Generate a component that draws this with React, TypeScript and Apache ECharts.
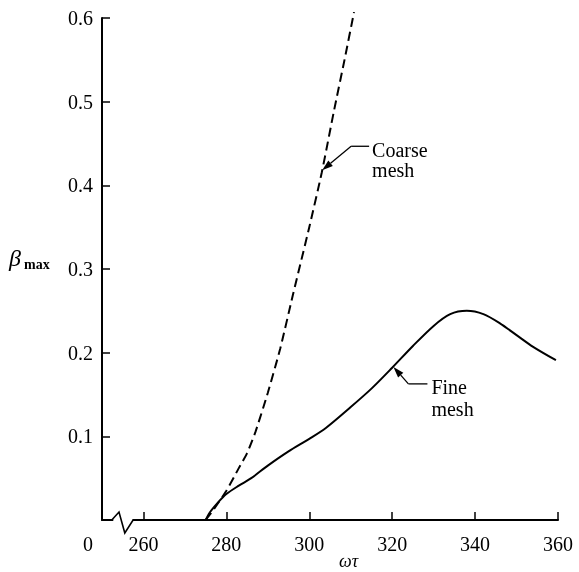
import React, { useEffect, useRef } from "react";
import * as echarts from "echarts";

const xTicks = [260, 280, 300, 320, 340, 360];
const yTicks = [0, 0.1, 0.2, 0.3, 0.4, 0.5, 0.6];

const coarseMesh: [number, number][] = [
  [275, 0], [277, 0.013], [280, 0.035], [283, 0.062], [285, 0.08], [287, 0.105],
  [290, 0.152], [293, 0.205], [296, 0.268], [300, 0.35], [303, 0.415],
  [306, 0.49], [308.5, 0.55], [310.8, 0.607],
];

const fineMesh: [number, number][] = [
  [275, 0], [276, 0.009], [278, 0.021], [280, 0.031], [283, 0.041], [286, 0.05],
  [290, 0.065], [295, 0.082], [300, 0.097], [304, 0.11], [310, 0.135],
  [315, 0.157], [320, 0.182], [325, 0.208], [330, 0.232], [334, 0.246],
  [338, 0.25], [342, 0.246], [346, 0.235], [350, 0.221], [354, 0.207], [359.5, 0.191],
];

const FONT = '"Liberation Serif", "DejaVu Serif", serif';

export default function App() {
  const ref = useRef<HTMLDivElement>(null);
  useEffect(() => {
    const chart = echarts.init(ref.current!, null, { renderer: "svg" });
    chart.setOption({
      animation: false,
      grid: { left: 102, top: 18, width: 456, height: 502 },
      xAxis: {
        type: "value",
        min: 250,
        max: 360,
        axisLine: { show: true, lineStyle: { color: "#000", width: 2 } },
        axisTick: { show: true, inside: true, length: 8, customValues: xTicks, lineStyle: { color: "#000", width: 1.5 } },
        axisLabel: { customValues: xTicks, color: "#000", fontFamily: FONT, fontSize: 20, margin: 14 },
        splitLine: { show: false },
      },
      yAxis: {
        type: "value",
        min: yTicks[0],
        max: yTicks[yTicks.length - 1],
        interval: 0.1,
        axisLine: { show: true, lineStyle: { color: "#000", width: 2 } },
        axisTick: { show: true, inside: true, length: 8, lineStyle: { color: "#000", width: 1.5 } },
        axisLabel: {
          color: "#000", fontFamily: FONT, fontSize: 20, margin: 9,
          formatter: (v: number) => (v === 0 ? "" : v.toFixed(1)),
        },
        splitLine: { show: false },
      },
      series: [
        {
          name: "Coarse mesh", type: "line", data: coarseMesh, showSymbol: false, clip: false,
          smooth: 0.2, lineStyle: { color: "#000", width: 2, type: [9, 5] },
        },
        {
          name: "Fine mesh", type: "line", data: fineMesh, showSymbol: false,
          smooth: 0.3, lineStyle: { color: "#000", width: 2 },
        },
      ],
    });

    const px = (x: number, y: number) => chart.convertToPixel({ gridIndex: 0 }, [x, y]) as number[];
    const arrow = (tip: number[], from: number[]) => {
      const dx = tip[0] - from[0], dy = tip[1] - from[1];
      const L = Math.hypot(dx, dy);
      const ux = dx / L, uy = dy / L;
      const len = 11, w = 3.5;
      const bx = tip[0] - ux * len, by = tip[1] - uy * len;
      return [
        { type: "polyline", shape: { points: [[from[0], from[1]], [bx, by]] }, style: { stroke: "#000", lineWidth: 1.3, fill: null } },
        { type: "polygon", shape: { points: [tip, [bx - uy * w, by + ux * w], [bx + uy * w, by - ux * w]] }, style: { fill: "#000" } },
      ];
    };

    const y0 = px(250, 0)[1];
    const zA = px(252.6, 0), zB = px(254.1, 0), zC = px(255.5, 0), zD = px(257.5, 0);
    const cTip = px(303.1, 0.418);
    const cElbow = [cTip[0] + 29, cTip[1] - 24];
    const cEnd = [cElbow[0] + 18, cElbow[1]];
    const fTip = px(320.3, 0.183);
    const fElbow = [fTip[0] + 15, fTip[1] + 17];
    const fEnd = [fElbow[0] + 19, fElbow[1]];
    const nameX = px(309.5, 0)[0];

    chart.setOption({
      graphic: [
        { type: "rect", shape: { x: zA[0] + 0.5, y: y0 - 3, width: zD[0] - zA[0] - 1, height: 6 }, style: { fill: "#fff" }, z: 100 },
        {
          type: "polyline", z: 101,
          shape: { points: [[zA[0] - 1, y0], [zB[0], y0 - 8], [zC[0], y0 + 13], [zD[0], y0], [zD[0] + 1, y0]] },
          style: { stroke: "#000", lineWidth: 1.6, fill: null },
        },
        { type: "text", x: 93, y: y0 + 14, style: { text: "0", font: `20px ${FONT}`, fill: "#000", align: "right", verticalAlign: "top" } },
        { type: "text", x: nameX, y: 561, style: { text: "ωτ", font: `italic 18px ${FONT}`, fill: "#000", align: "center", verticalAlign: "middle" } },
        { type: "text", x: 9, y: 258, style: { text: "β", font: `italic 24px ${FONT}`, fill: "#000", align: "left", verticalAlign: "middle" } },
        { type: "text", x: 24, y: 264, style: { text: "max", font: `bold 14px ${FONT}`, fill: "#000", align: "left", verticalAlign: "middle" } },
        { type: "polyline", shape: { points: [cEnd, cElbow] }, style: { stroke: "#000", lineWidth: 1.3, fill: null } },
        ...arrow(cTip, cElbow),
        { type: "text", x: cEnd[0] + 3, y: cEnd[1] - 6, style: { text: "Coarse\nmesh", font: `20px ${FONT}`, lineHeight: 20, fill: "#000", align: "left", verticalAlign: "top" } },
        { type: "polyline", shape: { points: [fEnd, fElbow] }, style: { stroke: "#000", lineWidth: 1.3, fill: null } },
        ...arrow(fTip, fElbow),
        { type: "text", x: fEnd[0] + 4, y: fEnd[1] - 8, style: { text: "Fine\nmesh", font: `20px ${FONT}`, lineHeight: 22, fill: "#000", align: "left", verticalAlign: "top" } },
      ],
    });
    return () => chart.dispose();
  }, []);
  return <div ref={ref} style={{ position: "fixed", left: 0, top: 0, width: 579, height: 572 }} />;
}
